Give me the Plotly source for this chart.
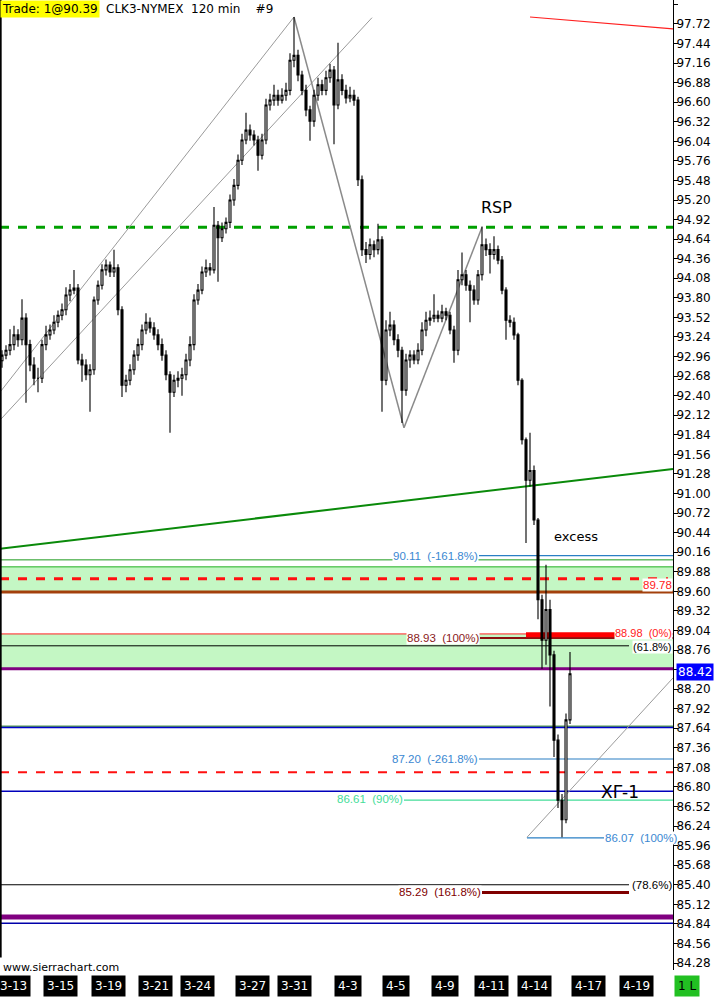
import plotly.graph_objects as go

# CLK3-NYMEX, 120 min bars
opens = [92.90, 92.98, 93.05, 93.13, 93.27, 93.20, 93.51, 93.13, 92.84, 92.65,
         92.65, 93.13, 93.27, 93.34, 93.45, 93.55, 93.63, 93.84, 93.91, 93.94,
         92.91, 92.84, 92.70, 92.77, 93.77, 93.98, 94.20, 94.27, 94.17, 94.23,
         93.63, 92.55, 92.62, 92.77, 92.98, 93.13, 93.34, 93.45, 93.37, 93.27,
         93.13, 92.98, 92.70, 92.45, 92.62, 92.65, 92.70, 92.91, 93.13, 93.77,
         93.91, 94.17, 94.23, 94.20, 94.84, 94.66, 94.79, 94.88, 95.20, 95.41,
         95.77, 96.06, 96.20, 96.13, 96.06, 95.84, 96.06, 96.56, 96.63, 96.70,
         96.63, 96.70, 96.77, 97.20, 97.27, 96.99, 96.77, 96.49, 96.33, 96.70,
         96.85, 96.77, 96.95, 97.06, 96.56, 96.92, 96.77, 96.66, 96.70, 96.63,
         95.49, 94.49, 94.42, 94.56, 94.49, 94.63, 92.62, 93.34, 93.41, 93.20,
         93.05, 92.48, 92.91, 92.98, 92.91, 93.05, 93.34, 93.48, 93.51, 93.55,
         93.51, 93.60, 93.55, 93.34, 93.05, 94.06, 94.13, 93.98, 93.91, 93.77,
         94.13, 94.56, 94.49, 94.42, 94.49, 94.34, 93.91, 93.48, 93.45, 93.27,
         92.62, 91.77, 91.19, 91.33, 90.62, 89.48, 88.90, 89.34, 88.69, 87.47,
         86.61, 86.33, 87.76]

highs = [93.05, 93.12, 93.35, 93.40, 93.35, 93.78, 93.58, 93.20, 92.95, 92.80,
         93.20, 93.40, 93.42, 93.55, 93.62, 93.72, 93.95, 94.00, 94.20, 94.00,
         93.00, 92.92, 92.85, 93.82, 94.05, 94.28, 94.35, 94.32, 94.49, 94.28,
         93.68, 92.70, 92.85, 93.05, 93.22, 93.42, 93.58, 93.52, 93.45, 93.35,
         93.22, 93.05, 92.75, 92.70, 92.75, 92.80, 93.00, 93.25, 93.85, 94.00,
         94.25, 94.35, 94.30, 95.10, 94.90, 94.88, 94.95, 95.28, 95.50, 95.85,
         96.15, 96.45, 96.28, 96.20, 96.12, 96.15, 96.65, 96.72, 96.85, 96.78,
         96.80, 96.88, 97.30, 97.82, 97.35, 97.05, 96.85, 96.55, 96.78, 96.95,
         96.92, 97.05, 97.15, 97.12, 97.45, 97.00, 96.85, 96.82, 96.78, 96.68,
         95.55, 94.60, 94.65, 94.62, 94.86, 94.68, 93.48, 93.60, 93.48, 93.28,
         93.10, 93.00, 93.05, 93.05, 93.15, 93.45, 93.60, 93.62, 93.85, 93.62,
         93.70, 93.66, 93.60, 93.40, 94.20, 94.45, 94.20, 94.05, 93.98, 94.20,
         94.82, 94.65, 94.58, 94.68, 94.55, 94.40, 93.95, 93.55, 93.52, 93.30,
         92.65, 91.80, 91.87, 91.40, 90.65, 89.55, 89.98, 89.48, 88.75, 87.55,
         86.70, 87.85, 88.73]

lows = [92.80, 92.92, 92.98, 93.05, 93.10, 93.12, 92.30, 92.75, 92.55, 92.45,
        92.58, 93.05, 93.20, 93.28, 93.38, 93.48, 93.55, 93.75, 93.85, 92.85,
        92.60, 92.62, 92.17, 92.70, 93.70, 93.92, 94.12, 94.10, 94.10, 93.55,
        92.38, 92.45, 92.55, 92.70, 92.90, 93.05, 93.28, 93.30, 93.20, 93.05,
        92.90, 92.62, 91.87, 92.38, 92.52, 92.40, 92.62, 92.82, 93.05, 93.70,
        93.85, 94.10, 94.12, 94.15, 94.03, 94.60, 94.72, 94.80, 95.12, 95.35,
        95.70, 96.00, 96.05, 95.98, 95.62, 95.78, 96.00, 96.48, 96.55, 96.55,
        96.58, 96.62, 96.70, 97.10, 96.90, 96.70, 96.40, 96.05, 96.25, 96.62,
        96.70, 96.70, 96.88, 96.00, 96.50, 96.70, 96.58, 96.60, 96.55, 95.40,
        94.40, 94.30, 94.35, 94.38, 94.42, 92.17, 92.55, 93.25, 93.12, 92.95,
        92.01, 92.40, 92.80, 92.85, 92.85, 92.98, 93.25, 93.40, 93.45, 93.45,
        93.45, 93.48, 93.28, 92.87, 92.98, 93.98, 93.90, 93.45, 93.70, 93.70,
        94.05, 94.40, 94.15, 94.35, 94.28, 93.85, 93.20, 93.38, 93.20, 92.55,
        91.70, 90.29, 91.10, 90.55, 89.20, 88.49, 88.55, 87.95, 87.23, 86.50,
        86.08, 86.28, 87.70]

closes = [92.98, 93.05, 93.13, 93.27, 93.20, 93.51, 93.13, 92.84, 92.65, 92.65,
          93.13, 93.27, 93.34, 93.45, 93.55, 93.63, 93.84, 93.91, 93.94, 92.91,
          92.84, 92.70, 92.77, 93.77, 93.98, 94.20, 94.27, 94.17, 94.23, 93.63,
          92.55, 92.62, 92.77, 92.98, 93.13, 93.34, 93.45, 93.37, 93.27, 93.13,
          92.98, 92.70, 92.45, 92.62, 92.65, 92.70, 92.91, 93.13, 93.77, 93.91,
          94.17, 94.23, 94.20, 94.84, 94.66, 94.79, 94.88, 95.20, 95.41, 95.77,
          96.06, 96.20, 96.13, 96.06, 95.84, 96.06, 96.56, 96.63, 96.70, 96.63,
          96.70, 96.77, 97.20, 97.27, 96.99, 96.77, 96.49, 96.33, 96.70, 96.85,
          96.77, 96.95, 97.06, 96.56, 96.92, 96.77, 96.66, 96.70, 96.63, 95.49,
          94.49, 94.42, 94.56, 94.49, 94.63, 92.62, 93.34, 93.41, 93.20, 93.05,
          92.48, 92.91, 92.98, 92.91, 93.05, 93.34, 93.48, 93.51, 93.55, 93.51,
          93.60, 93.55, 93.34, 93.05, 94.06, 94.13, 93.98, 93.91, 93.77, 94.13,
          94.56, 94.49, 94.42, 94.49, 94.34, 93.91, 93.48, 93.45, 93.27, 92.62,
          91.77, 91.19, 91.33, 90.62, 89.48, 88.90, 89.34, 88.69, 87.47, 86.61,
          86.33, 87.76, 88.42]

# session date labels and the bar position they sit at
date_labels = ["3-13", "3-15", "3-19", "3-21", "3-24", "3-27", "3-31",
               "4-3", "4-5", "4-9", "4-11", "4-14", "4-17", "4-19"]
date_bar_pos = [2.75, 14.5, 26.5, 38.25, 48.75, 62.5, 73,
                86.5, 98.5, 110.75, 122.25, 133, 146.5, 158.5]

# horizontal levels
rsp_level = 94.81
upper_zone = [90.05, 89.95, 89.59]
upper_red_dash = 89.78
lower_zone = [88.99, 88.49]
fib_black = [88.82, 85.40]           # (61.8%), (78.6%)
fib_maroon = [88.93, 85.29]          # (100%), (161.8%)
fib_red_zero = 88.98                 # (0%)
fib_blue = [90.11, 87.20, 86.07]     # (-161.8%), (-261.8%), (100%)
fib_green = 86.61                    # (90%)
blue_levels = [87.65, 86.74, 84.85]
green_level = 87.67
red_dash_low = 87.01
purple_levels = [88.49, 84.94]
last_price = 88.42

# drawn trend lines: (bar0, price0, bar1, price1)
gray_lines = [(-0.5, 92.45, 73, 97.82), (-0.5, 92.05, 92.5, 97.81),
              (131.25, 86.08, 167.75, 88.36)]
zigzag = [(73, 97.82, 100.5, 91.94), (100.5, 91.94, 120, 94.81)]
green_trend = (-0.5, 90.21, 167.75, 91.35)
red_trend = (132, 97.82, 167.75, 97.65)

FONT = "DejaVu Sans"
LBL_FONT = "Liberation Sans"
X_END = 167.75

fig = go.Figure()

fig.add_trace(go.Candlestick(
    x=list(range(len(closes))),
    open=opens, high=highs, low=lows, close=closes,
    increasing=dict(line=dict(color="black", width=1.1), fillcolor="white"),
    decreasing=dict(line=dict(color="black", width=1.1), fillcolor="black"),
    whiskerwidth=0,
    hoverinfo="skip",
    showlegend=False
))


def hline(y, color, width=1, dash="solid", x0=None, x1=None):
    if x0 is None:
        fig.add_shape(type="line", xref="paper", yref="y", x0=0, x1=1, y0=y, y1=y,
                      line=dict(color=color, width=width, dash=dash), layer="below")
    else:
        fig.add_shape(type="line", xref="x", yref="y", x0=x0, x1=x1, y0=y, y1=y,
                      line=dict(color=color, width=width, dash=dash), layer="below")


def seg(p, color, width=1):
    fig.add_shape(type="line", xref="x", yref="y", x0=p[0], y0=p[1], x1=p[2], y1=p[3],
                  line=dict(color=color, width=width), layer="below")


def label(text, x, y, color, xanchor="right", xref="x", size=11.5):
    fig.add_annotation(text=text, x=x, y=y, xref=xref, yref="y", xanchor=xanchor,
                       yanchor="middle", showarrow=False, bgcolor="white", borderpad=0,
                       font=dict(family=LBL_FONT, size=size, color=color))


# green zones
fig.add_shape(type="rect", xref="paper", yref="y", x0=0, x1=1,
              y0=upper_zone[1], y1=upper_zone[2], fillcolor="#c4f7c4",
              line=dict(width=0), layer="below")
fig.add_shape(type="rect", xref="paper", yref="y", x0=0, x1=1,
              y0=lower_zone[0], y1=lower_zone[1], fillcolor="#c4f7c4",
              line=dict(width=0), layer="below")

# levels
hline(rsp_level, "#00a000", 3, "dash")
hline(upper_zone[0], "#1a9a1a", 1)
hline(upper_zone[1], "#22b022", 1)
hline(upper_red_dash, "#ff1010", 3, "dash", -0.5, 166.5)
hline(upper_zone[2], "#a3400c", 3)
hline(lower_zone[0], "#ff2020", 1)
hline(fib_maroon[0], "#8b1010", 2, x0=119.5, x1=X_END)
hline(fib_red_zero, "#ff0000", 5, x0=131, x1=153.25)
hline(fib_black[0], "black", 1, x0=-0.5, x1=156.75)
hline(purple_levels[0], "#800080", 3)
hline(green_level, "#006600", 1)
hline(blue_levels[0], "#0000cc", 1.5)
hline(fib_blue[0], "#2a7fc4", 1.2, x0=119.25, x1=X_END)
hline(fib_blue[1], "#2a7fc4", 1.2, x0=119.25, x1=X_END)
hline(red_dash_low, "#ff1010", 2, "dash")
hline(blue_levels[1], "#0000bb", 1.5)
hline(fib_green, "#44dd99", 1.2, x0=100.5, x1=X_END)
hline(fib_blue[2], "#2a7fc4", 1.2, x0=131.25, x1=150.5)
hline(fib_black[1], "black", 1.2, x0=-0.5, x1=156.75)
hline(fib_maroon[1], "#800000", 3, x0=120, x1=156.75)
hline(purple_levels[1], "#800080", 5)
hline(blue_levels[2], "#0000aa", 1.5)

# trend lines
for p in gray_lines:
    seg(p, "#9a9a9a", 1)
for p in zigzag:
    seg(p, "#8a8a8a", 1.5)
seg(green_trend, "#0a8a0a", 2)
seg(red_trend, "#ff2020", 1.2)

# left border
fig.add_shape(type="line", xref="paper", yref="paper", x0=0.001, x1=0.001, y0=0.013, y1=1,
              line=dict(color="black", width=2))

sp = "\u00a0\u00a0"
label(f"{fib_blue[0]:.2f}{sp}(-161.8%)", 119.25, fib_blue[0], "#3a88d2")
label(f"{upper_red_dash:.2f}", 1, upper_red_dash - 0.09, "#ff2020", xref="paper")
label(f"{fib_maroon[0]:.2f}{sp}(100%)", 119.5, fib_maroon[0], "#8b1a1a")
label(f"{fib_red_zero:.2f}{sp}(0%)", 1, fib_red_zero + 0.02, "#ff2020", xref="paper", size=11)
label("(61.8%)", 1, fib_black[0] - 0.02, "black", xref="paper", size=11)
label(f"{fib_blue[1]:.2f}{sp}(-261.8%)", 119.25, fib_blue[1], "#3a88d2")
label(f"{fib_green:.2f}{sp}(90%)", 100.5, fib_green + 0.02, "#44dd99")
label(f"{fib_blue[2]:.2f}{sp}(100%)", 150.5, fib_blue[2], "#3a88d2", xanchor="left")
label("(78.6%)", 1, fib_black[1], "black", xref="paper")
label(f"{fib_maroon[1]:.2f}{sp}(161.8%)", 120, fib_maroon[1], "#800000")

# chart notes
fig.add_annotation(text="RSP", x=123.5, y=95.10, xref="x", yref="y", showarrow=False,
                   font=dict(family=FONT, size=16, color="black"))
fig.add_annotation(text="excess", x=143.5, y=90.38, xref="x", yref="y", showarrow=False,
                   font=dict(family=FONT, size=13, color="black"))
fig.add_annotation(text="XΓ-1", x=154.5, y=86.73, xref="x", yref="y", showarrow=False,
                   font=dict(family=FONT, size=17, color="black"))

# header
fig.add_annotation(text="Trade: 1@90.39", x=0, y=1, xref="paper", yref="paper",
                   xanchor="left", yanchor="top", showarrow=False, bgcolor="#ffff00",
                   borderpad=1, font=dict(family=FONT, size=12, color="black"))
fig.add_annotation(text="CLK3-NYMEX\u00a0\u00a0120 min\u00a0\u00a0\u00a0\u00a0#9", x=0.154, y=1,
                   xref="paper", yref="paper", xanchor="left", yanchor="top",
                   showarrow=False, borderpad=1, font=dict(family=FONT, size=12, color="black"))
fig.add_annotation(text="www.sierrachart.com", x=0.002, y=0, xref="paper", yref="paper",
                   xanchor="left", yanchor="bottom", showarrow=False, yshift=-6,
                   font=dict(family=FONT, size=11, color="black"))

# current price marker
fig.add_annotation(text=f"{last_price:.2f}", x=1.004, y=last_price + 0.03, xref="paper",
                   yref="y", xanchor="left", yanchor="middle", showarrow=False,
                   bgcolor="#0000ff", borderpad=1,
                   font=dict(family=FONT, size=12, color="white"))

# date labels on black tags
for d, pos in zip(date_labels, date_bar_pos):
    fig.add_annotation(text=d, x=pos, y=0, xref="x", yref="paper", yanchor="top",
                       yshift=-5, showarrow=False, bgcolor="black", borderpad=3,
                       font=dict(family=FONT, size=12, color="white"))
fig.add_annotation(text="1 L", x=1.04, y=0, xref="paper", yref="paper", yanchor="top",
                   yshift=-5, showarrow=False, bgcolor="#22c022", borderpad=3,
                   font=dict(family=FONT, size=12, color="black"))

fig.update_layout(
    width=715, height=997,
    margin=dict(l=0, r=42, t=0, b=27),
    paper_bgcolor="white",
    plot_bgcolor="white",
    showlegend=False,
    xaxis=dict(range=[-0.5, X_END], showticklabels=False, showgrid=False,
               zeroline=False, showline=False, rangeslider=dict(visible=False),
               fixedrange=True),
    yaxis=dict(range=[84.18, 98.063], side="right", tick0=84.28, dtick=0.28,
               tickformat=".2f", ticks="outside", ticklen=4, tickcolor="black",
               ticklabelstandoff=-4,
               # the tick under the current-price tag is hidden, as on the chart
               labelalias={"88.48": ""},
               showline=True, linecolor="black", linewidth=1, showgrid=False,
               zeroline=False, tickfont=dict(family=FONT, size=12, color="black"))
)

# the page body has a default margin; drop it so the chart sits at the corner
fig.write_html("out.html", config={"displayModeBar": False},
               post_script="document.body.style.margin='0';")
